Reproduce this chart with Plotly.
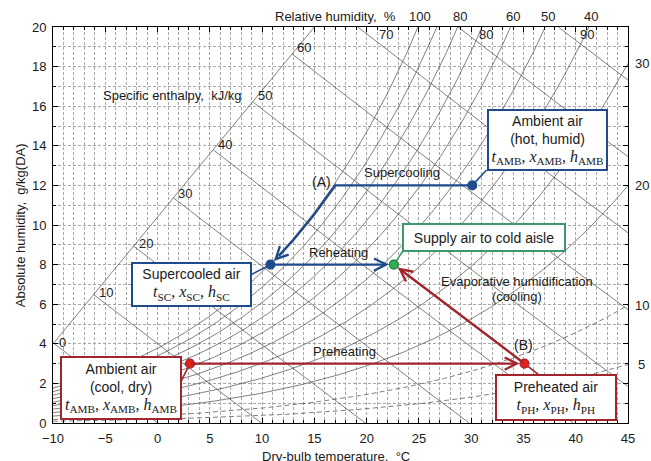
import numpy as np
import plotly.graph_objects as go

P_ATM = 101.325  # kPa

# ---------------- data ----------------
t_range = [-10, 45]
x_range = [0, 20]
x_ticks = [-10, -5, 0, 5, 10, 15, 20, 25, 30, 35, 40, 45]
y_ticks = [0, 2, 4, 6, 8, 10, 12, 14, 16, 18, 20]

rh_levels = [5, 10, 20, 30, 40, 50, 60, 70, 80, 90, 100]
rh_dashed_levels = [5, 10]
rh_top_labels = [100, 80, 60, 50, 40]
rh_right_labels = [30, 20, 10, 5]
enthalpy_levels = [0, 10, 20, 30, 40, 50, 60, 70, 80, 90]
guide_t = [-10.0, 15.0]
guide_x = [4.0, 20.0]

# process states: dry-bulb t (degC), absolute humidity x (g/kg)
amb_hot = (30.1, 12.0)
point_A = (17.0, 12.0)
supercooled = (10.8, 8.0)
supply = (22.6, 8.0)
amb_cool = (3.1, 3.0)
preheated = (35.1, 3.0)

# ---------------- psychrometrics ----------------
def psat(t):
    t = np.asarray(t, dtype=float)
    return 0.61078 * np.exp(17.27 * t / (t + 237.3))

def x_of(t, rh):
    pv = psat(t) * rh / 100.0
    return 622.0 * pv / (P_ATM - pv)

def h_of(t, x):
    return 1.006 * t + x * (2.501 + 0.00186 * t)

def t_of_hx(h, x):
    return (h - 2.501 * x) / (1.006 + 0.00186 * x)

BLUE = "#1f4a8c"
RED = "#a1252b"
GREEN = "#3a9a6c"
LINE = "#4a4a4a"
SANS = "Liberation Sans, Arial, sans-serif"
SERIF = "Liberation Serif, Times New Roman, serif"

fig = go.Figure()

# RH curves
tt = np.linspace(t_range[0], t_range[1], 400)
for rh in rh_levels:
    xx = x_of(tt, rh)
    xx = np.where(xx > 24, np.nan, xx)
    fig.add_trace(go.Scatter(
        x=tt, y=xx, mode="lines", hoverinfo="skip",
        line=dict(color=LINE, width=0.7,
                  dash="5px,3px" if rh in rh_dashed_levels else "solid")))

# enthalpy guide line
fig.add_trace(go.Scatter(x=guide_t, y=guide_x, mode="lines", hoverinfo="skip",
                         line=dict(color=LINE, width=0.7)))

annotations = []
gt = np.linspace(guide_t[0], guide_t[1], 3001)
gx = np.interp(gt, guide_t, guide_x)
gh = h_of(gt, gx)
for h in enthalpy_levels:
    if h <= gh.max():
        t0 = float(np.interp(h, gh, gt))
        x0 = float(np.interp(t0, guide_t, guide_x))
        on_guide = True
    else:
        x0 = x_range[1]
        t0 = float(t_of_hx(h, x0))
        on_guide = False
    xs = np.linspace(x0, 0, 80)
    ts = t_of_hx(h, xs)
    fig.add_trace(go.Scatter(x=ts, y=xs, mode="lines", hoverinfo="skip",
                             line=dict(color=LINE, width=0.7)))
    if on_guide:
        annotations.append(dict(x=t0, y=x0, xref="x", yref="y", text=str(h),
                                showarrow=False, xanchor="left", yanchor="middle",
                                xshift=3, yshift=1 + h * 0.1,
                                font=dict(size=13, color="#222")))
    else:
        yl = 19.6
        annotations.append(dict(x=float(t_of_hx(h, yl)), y=yl, xref="x", yref="y",
                                text=str(h), showarrow=False, xanchor="center",
                                yanchor="middle", xshift=18,
                                font=dict(size=13, color="#222")))

# RH labels (top, at x = 20 g/kg)
for rh in rh_top_labels:
    tl = float(np.interp(x_range[1], x_of(tt, rh), tt))
    annotations.append(dict(x=tl, y=1.027, xref="x", yref="paper", text=str(rh),
                            showarrow=False, xanchor="center", yanchor="middle",
                            xshift=2, font=dict(size=13, color="#222")))
# RH labels (right, at t = 45)
for rh in rh_right_labels:
    annotations.append(dict(x=1.0235, y=float(x_of(t_range[1], rh)), xref="paper",
                            yref="y", text=str(rh), showarrow=False,
                            xanchor="center", yanchor="middle",
                            font=dict(size=13, color="#222")))

# ---------------- process lines ----------------
# supercooling along saturation
tc = np.linspace(point_A[0], 11.6, 40)
off0 = point_A[1] - x_of(point_A[0], 100)
off1 = supercooled[1] - x_of(supercooled[0], 100)
offs = np.interp(tc, [supercooled[0], point_A[0]], [off1, off0])
xc = x_of(tc, 100) + offs
path_t = [amb_hot[0]] + list(tc)
path_x = [amb_hot[1]] + list(xc)
fig.add_trace(go.Scatter(x=path_t, y=path_x, mode="lines", hoverinfo="skip",
                         line=dict(color=BLUE, width=2.4)))
annotations.append(dict(x=supercooled[0], y=supercooled[1], ax=float(tc[-1]), ay=float(xc[-1]),
                        xref="x", yref="y", axref="x", ayref="y", text="",
                        showarrow=True, arrowhead=5, arrowsize=1, arrowwidth=2.4,
                        arrowcolor=BLUE, standoff=5))
# reheating
annotations.append(dict(x=supply[0], y=supply[1], ax=supercooled[0], ay=supercooled[1],
                        xref="x", yref="y", axref="x", ayref="y", text="",
                        showarrow=True, arrowhead=5, arrowsize=1, arrowwidth=2.4,
                        arrowcolor=BLUE, standoff=5))
# preheating
annotations.append(dict(x=preheated[0], y=preheated[1], ax=amb_cool[0], ay=amb_cool[1],
                        xref="x", yref="y", axref="x", ayref="y", text="",
                        showarrow=True, arrowhead=5, arrowsize=1, arrowwidth=2.4,
                        arrowcolor=RED, standoff=5))
# evaporative humidification
annotations.append(dict(x=supply[0], y=supply[1], ax=preheated[0], ay=preheated[1],
                        xref="x", yref="y", axref="x", ayref="y", text="",
                        showarrow=True, arrowhead=5, arrowsize=1, arrowwidth=2.4,
                        arrowcolor=RED, standoff=5))

# leader lines from points to boxes
leaders = [
    (amb_hot, (31.47, 12.78), BLUE),
    (supercooled, (8.91, 7.48), BLUE),
    (supply, (23.47, 8.69), GREEN),
    (amb_cool, (2.22, 2.08), RED),
    (preheated, (36.57, 2.39), RED),
]
for p, q, c in leaders:
    fig.add_trace(go.Scatter(x=[p[0], q[0]], y=[p[1], q[1]], mode="lines",
                             hoverinfo="skip", line=dict(color=c, width=1.6)))

# state points
pts = [(amb_hot, BLUE, BLUE), (supercooled, BLUE, BLUE), (supply, "#2fae4e", "#1d7a38"),
       (amb_cool, "#e3201b", RED), (preheated, "#e3201b", RED)]
fig.add_trace(go.Scatter(
    x=[p[0][0] for p in pts], y=[p[0][1] for p in pts], mode="markers",
    hoverinfo="skip", cliponaxis=False,
    marker=dict(size=9, color=[p[1] for p in pts],
                line=dict(color=[p[2] for p in pts], width=1.2))))

# ---------------- boxes ----------------
def sym(name, sub):
    return f"<i>{name}</i><sub>{sub}</sub>"

def sym_line(sub):
    return (f"<span style='font-family:{SERIF};font-size:16px'>"
            f"{sym('t', sub)}, {sym('x', sub)}, {sym('h', sub)}</span>")

boxes = [
    ("Ambient air<br>(hot, humid)<br>" + sym_line("AMB"), 37.26, 14.30, 115, 56, BLUE),
    ("Supercooled air<br>" + sym_line("SC"), 3.22, 7.02, 115, 39, BLUE),
    ("Supply air to cold aisle", 31.23, 9.39, 158, 23, GREEN),
    ("Ambient air<br>(cool, dry)<br>" + sym_line("AMB"), -3.52, 1.77, 116, 58, RED),
    ("Preheated air<br>" + sym_line("PH"), 38.1, 1.30, 116, 41, RED),
]
for text, bx, by, w, hgt, c in boxes:
    annotations.append(dict(x=bx, y=by, xref="x", yref="y", text=text, showarrow=False,
                            xanchor="center", yanchor="middle", width=w, height=hgt,
                            align="center", valign="middle",
                            bgcolor="white", bordercolor=c, borderwidth=2, borderpad=1,
                            font=dict(size=14, color="#1a1a1a", family=SANS)))

# ---------------- text labels ----------------
labels = [
    ("(A)", 15.72, 12.17, 14),
    ("Supercooling", 23.35, 12.64, 13),
    ("Reheating", 17.3, 8.59, 13),
    ("Evaporative humidification", 34.34, 7.14, 13),
    ("(cooling)", 34.34, 6.38, 13),
    ("(B)", 35.04, 3.95, 14),
    ("Preheating", 17.92, 3.62, 13),
    ("Specific enthalpy,  kJ/kg", 1.43, 16.56, 13),
]
for text, lx, ly, fs in labels:
    annotations.append(dict(x=lx, y=ly, xref="x", yref="y", text=text, showarrow=False,
                            xanchor="center", yanchor="middle",
                            font=dict(size=fs, color="#1a1a1a")))

# axis titles
annotations.append(dict(x=0.4917, y=-0.085, xref="paper", yref="paper",
                        text="Dry-bulb temperature,  °C", showarrow=False,
                        xanchor="center", yanchor="middle", font=dict(size=13, color="#1a1a1a")))
annotations.append(dict(x=-0.057, y=0.5, xref="paper", yref="paper", textangle=-90,
                        text="Absolute humidity,  g/kg(DA)", showarrow=False,
                        xanchor="center", yanchor="middle", font=dict(size=13, color="#1a1a1a")))
annotations.append(dict(x=0.4917, y=1.027, xref="paper", yref="paper",
                        text="Relative humidity,  %", showarrow=False,
                        xanchor="center", yanchor="middle", font=dict(size=13, color="#1a1a1a")))

grid = dict(gridcolor="#a8a8a8", griddash="3px,2px", gridwidth=0.7)
fig.update_layout(
    width=651, height=461,
    margin=dict(l=53, r=23, t=27, b=38),
    paper_bgcolor="white", plot_bgcolor="white",
    showlegend=False, hovermode=False,
    font=dict(family=SANS, size=13, color="#1a1a1a"),
    annotations=annotations,
    xaxis=dict(range=t_range, tickvals=x_ticks, showgrid=True, **grid,
               zeroline=False, showline=True, linecolor="black", linewidth=1,
               mirror="ticks", ticks="inside", ticklen=5, tickcolor="black",
               ticklabelstandoff=3,
               minor=dict(dtick=1, showgrid=True, ticks="inside", ticklen=3,
                          tickcolor="black", **grid)),
    yaxis=dict(range=x_range, tickvals=y_ticks, showgrid=True, **grid,
               zeroline=False, showline=True, linecolor="black", linewidth=1,
               mirror="ticks", ticks="inside", ticklen=5, tickcolor="black",
               ticklabelstandoff=3,
               minor=dict(dtick=1, showgrid=True, ticks="inside", ticklen=3,
                          tickcolor="black", **grid)),
)

fig.write_html("out.html")
